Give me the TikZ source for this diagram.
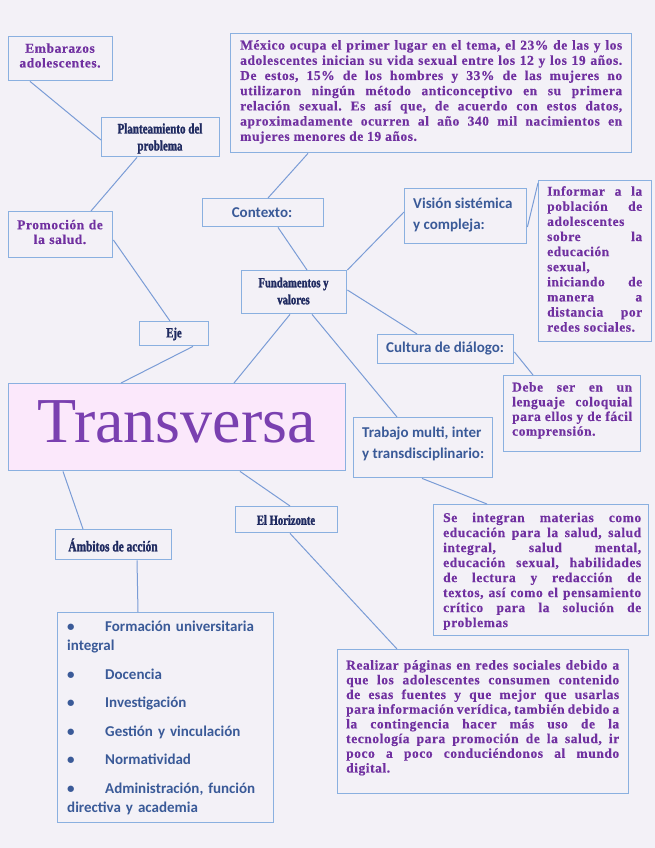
\documentclass[tikz,border=0pt]{standalone}
\usepackage{fontspec}
\newfontfamily\pfont{Liberation Serif}[LetterSpace=4,FakeBold=0.4]
\newfontfamily\cfont{Liberation Serif Bold}[FakeStretch=0.76,FakeBold=1.6]
\newfontfamily\kfont{Carlito}
\newfontfamily\tfont{Liberation Serif}
\frenchspacing
\definecolor{bg}{HTML}{F3F1F7}
\definecolor{boxc}{HTML}{8AB0E0}
\definecolor{linec}{HTML}{7A9CD6}
\definecolor{purp}{HTML}{7030A0}
\definecolor{navy}{HTML}{1F2A60}
\definecolor{bluet}{HTML}{3A5A98}
\definecolor{trafill}{HTML}{FBE8FB}
\definecolor{tracol}{HTML}{7A40B0}
\begin{document}
\begin{tikzpicture}[x=1pt,y=-1pt,
  box/.style={draw=boxc, line width=1.4pt, anchor=north west, inner sep=0pt},
  link/.style={draw=linec, line width=1pt},
  ptext/.style={text=purp, font={\pfont\bfseries\fontsize{13.5}{14.7}\selectfont}, inner sep=0pt, align=justify, anchor=north west},
  pcent/.style={text=purp, font={\pfont\bfseries\fontsize{13.5}{14.7}\selectfont}, inner sep=0pt, align=center, anchor=center},
  ntext/.style={text=navy, font={\cfont\fontsize{14.5}{17}\selectfont}, inner sep=0pt, align=center, anchor=center},
  btext/.style={text=bluet, font={\kfont\bfseries\fontsize{15}{21.5}\selectfont}, inner sep=0pt, align=left, anchor=north west}]
\useasboundingbox (0,0) rectangle (655,848);
\fill[bg] (0,0) rectangle (655,848);

% boxes
\node[box, minimum width=104pt, minimum height=44pt] (emb) at (8,36) {};
\node[box, minimum width=118pt, minimum height=39pt] (plan) at (101,117) {};
\node[box, minimum width=401pt, minimum height=119pt] (mex) at (230,33) {};
\node[box, minimum width=121pt, minimum height=28pt] (ctx) at (202,198) {};
\node[box, minimum width=122pt, minimum height=55pt] (vis) at (404,188) {};
\node[box, minimum width=113pt, minimum height=161pt] (inf) at (538,180) {};
\node[box, minimum width=104pt, minimum height=46pt] (pro) at (8,211) {};
\node[box, minimum width=105pt, minimum height=43pt] (fun) at (241,270) {};
\node[box, minimum width=69pt, minimum height=24pt] (eje) at (139,321) {};
\node[box, minimum width=136pt, minimum height=29pt] (cul) at (377,334) {};
\node[box, minimum width=137pt, minimum height=76pt] (deb) at (503,375) {};
\node[box, fill=trafill, minimum width=337pt, minimum height=87pt] (tra) at (8,383) {};
\node[box, minimum width=139pt, minimum height=60pt] (tmi) at (353,417) {};
\node[box, minimum width=215pt, minimum height=131pt] (sei) at (433,504) {};
\node[box, minimum width=102pt, minimum height=26pt] (hor) at (235,506) {};
\node[box, minimum width=116pt, minimum height=30pt] (amb) at (55,529) {};
\node[box, minimum width=216pt, minimum height=210pt] (bul) at (57,612) {};
\node[box, minimum width=291pt, minimum height=144pt] (rea) at (337,649) {};

% connectors
\draw[link] ([xshift=22pt]emb.south west) -- ([yshift=-23pt]plan.north west);
\draw[link] ([xshift=36pt]plan.south west) -- ([xshift=83pt]pro.north west);
\draw[link] ([yshift=-29pt]pro.north east) -- ([xshift=31pt]eje.north west);
\draw[link] ([xshift=54pt]eje.south west) -- ([xshift=113pt]tra.north west);
\draw[link] ([xshift=49pt]fun.south west) -- ([xshift=226pt]tra.north west);
\draw[link] ([xshift=71pt]fun.south west) -- ([xshift=44pt]tmi.north west);
\draw[link] ([xshift=66pt]fun.north west) -- ([xshift=76pt]ctx.south west);
\draw[link] ([xshift=66pt]ctx.north west) -- ([xshift=78pt]mex.south west);
\draw[link] (fun.north east) -- ([yshift=-24pt]vis.north west);
\draw[link] ([yshift=-20pt]fun.north east) -- ([xshift=40pt]cul.north west);
\draw[link] ([yshift=-39pt]vis.north east) -- ([yshift=-3pt]inf.north west);
\draw[link] ([yshift=-18pt]cul.north east) -- ([xshift=30pt]deb.north west);
\draw[link] ([xshift=55pt]tra.south west) -- ([xshift=28pt]amb.north west);
\draw[link] ([xshift=232pt]tra.south west) -- ([xshift=55pt]hor.north west);
\draw[link] ([xshift=82pt]amb.south west) -- ([xshift=81pt]bul.north west);
\draw[link] ([xshift=55pt]hor.south west) -- ([xshift=60pt]rea.north west);
\draw[link] ([xshift=69pt]tmi.south west) -- ([xshift=54pt]sei.north west);

% texts
\node[pcent, text width=100pt] (tEmb) at (60,55.5) {Embarazos\\adolescentes.};
\node[pcent, text width=100pt] (tPro) at (60,232) {Promoción de\\la salud.};
\node[ptext, text width=382pt, font={\pfont\bfseries\fontsize{13.5}{15.2}\selectfont}] (tMex) at (240,40) {México ocupa el primer lugar en el tema, el 23\% de las y los\linebreak
adolescentes inician su vida sexual entre los 12 y los 19 años.\linebreak
De estos, 15\% de los hombres y 33\% de las mujeres no\linebreak
utilizaron ningún método anticonceptivo en su primera\linebreak
relación sexual. Es así que, de acuerdo con estos datos,\linebreak
aproximadamente ocurren al año 340 mil nacimientos en\linebreak
mujeres menores de 19 años.};
\node[ptext, text width=95pt, font={\pfont\bfseries\fontsize{13.5}{15.1}\selectfont}] (tInf) at (547,186) {Informar a la\linebreak
población de\linebreak
adolescentes\linebreak
sobre la\linebreak
educación\linebreak
sexual,\linebreak
iniciando de\linebreak
manera a\linebreak
distancia por\linebreak
redes sociales.};
\node[ptext, text width=120pt] (tDeb) at (512,382) {Debe ser en un\linebreak
lenguaje coloquial\linebreak
para ellos y de fácil\linebreak
comprensión.};
\node[ptext, text width=198pt, font={\pfont\bfseries\fontsize{13.5}{15}\selectfont}] (tSei) at (443,512.5) {Se integran materias como\linebreak
educación para la salud, salud\linebreak
integral, salud mental,\linebreak
educación sexual, habilidades\linebreak
de lectura y redacción de\linebreak
textos, así como el pensamiento\linebreak
crítico para la solución de\linebreak
problemas};
\node[ptext, text width=273pt] (tRea) at (346,660) {Realizar páginas en redes sociales debido a\linebreak
que los adolescentes consumen contenido\linebreak
de esas fuentes y que mejor que usarlas\linebreak
para información verídica, también debido a\linebreak
la contingencia hacer más uso de la\linebreak
tecnología para promoción de la salud, ir\linebreak
poco a poco conduciéndonos al mundo\linebreak
digital.};

\node[ntext] (tPlan) at (160,138.5) {Planteamiento del\\problema};
\node[ntext, font={\cfont\fontsize{14}{17}\selectfont}] (tFun) at (293.5,291) {Fundamentos y\\valores};
\node[ntext, font={\cfont\fontsize{14}{17}\selectfont}] (tEje) at (174,334) {Eje};
\node[ntext, font={\cfont\fontsize{14}{17}\selectfont}] (tHor) at (286,520) {El Horizonte};
\node[ntext, font={\cfont\fontsize{15}{17}\selectfont}] (tAmb) at (113,545) {Ámbitos de acción};

\node[btext, anchor=center] (tCtx) at (262,213) {Contexto:};
\node[btext] (tVis) at (413,197.5) {Visión sistémica\\y compleja:};
\node[btext, anchor=west] (tCul) at (386,349) {Cultura de diálogo:};
\node[btext] (tTmi) at (362,426.5) {Trabajo multi, inter\\y transdisciplinario:};
\node[btext, text width=210pt, font={\kfont\bfseries\fontsize{15}{19}\selectfont}] (tBul) at (67,621) {%
\makebox[38pt][l]{•}Formación universitaria\\integral\\[9.5pt]
\makebox[38pt][l]{•}Docencia\\[9.5pt]
\makebox[38pt][l]{•}Investigación\\[9.5pt]
\makebox[38pt][l]{•}Gestión y vinculación\\[9.5pt]
\makebox[38pt][l]{•}Normatividad\\[9.5pt]
\makebox[38pt][l]{•}Administración, función\\directiva y academia};

\node[text=tracol, font={\tfont\fontsize{64}{64}\selectfont}, inner sep=0pt, anchor=base] (tTra) at (176.5,442) {Transversa};
\end{tikzpicture}
\end{document}
